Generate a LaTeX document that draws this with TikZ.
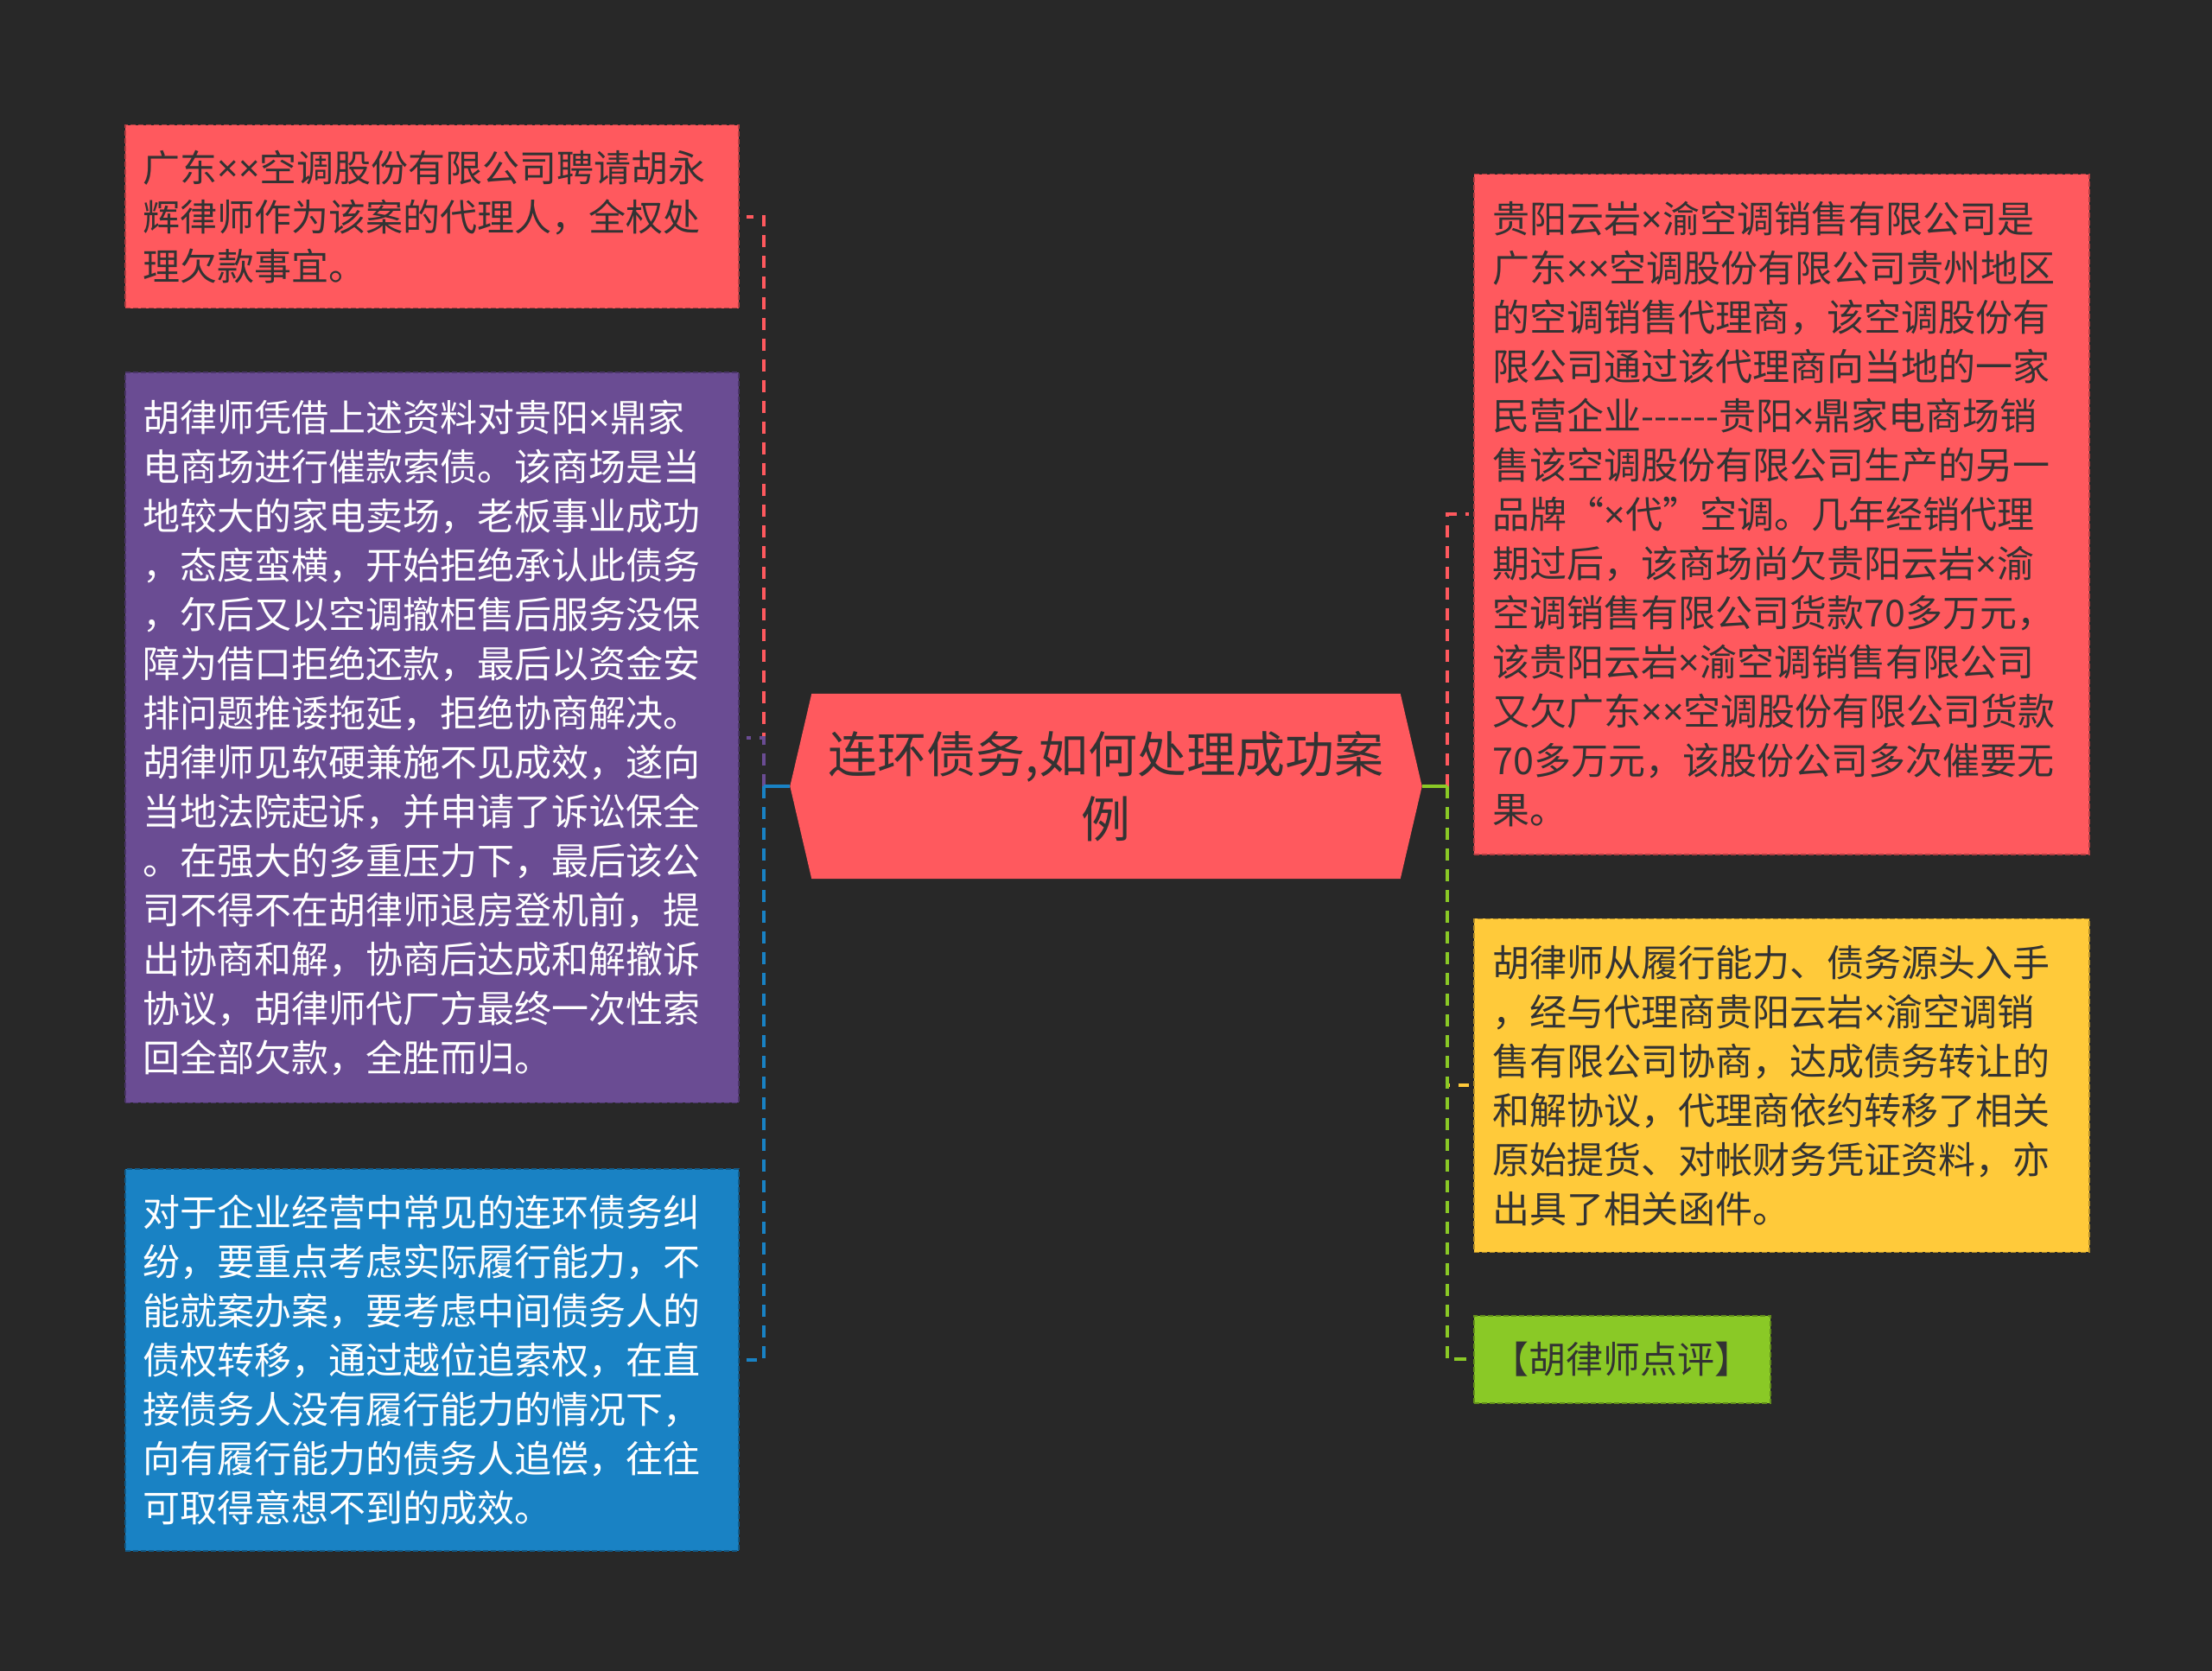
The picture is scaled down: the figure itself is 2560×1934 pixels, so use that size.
\documentclass[tikz,border=0pt]{standalone}
\usepackage{fontspec}
\setmainfont{Noto Sans CJK SC}
\newfontfamily\latn{Noto Sans}
\newcommand{\tms}{{\latn ×}}
\usetikzlibrary{positioning, backgrounds}
\definecolor{bgdark}{HTML}{282828}
\definecolor{nred}{HTML}{FF595E}
\definecolor{nyellow}{HTML}{FFCA3A}
\definecolor{ngreen}{HTML}{8AC926}
\definecolor{nblue}{HTML}{1982C4}
\definecolor{npurple}{HTML}{6A4C93}
\definecolor{ntext}{HTML}{333333}

\tikzset{
  leaf/.style={rectangle, fill=#1, draw=#1!70!black, dash pattern=on 6pt off 3pt, line width=1.5pt,
    inner xsep=21pt, inner ysep=0pt, text width=668pt, align=left, text=ntext,
    font=\fontsize{43pt}{57pt}\selectfont},
  link/.style={line width=4pt, draw=#1},
  linkdash/.style={dash pattern=on 14pt off 10pt},
}

\begin{document}
\begin{tikzpicture}[x=1pt, y=1pt]
  \useasboundingbox (0,0) rectangle (2560,-1934);

  % central topic
  \node[minimum width=681pt, minimum height=214pt, align=center, text=ntext,
        font=\fontsize{57pt}{75pt}\selectfont] (root) at (1280,-910) {连环债务,如何处理成功案\\例};
  \coordinate[left=25pt of root.west] (rootL);
  \coordinate[right=25pt of root.east] (rootR);
  \coordinate[left=30pt of rootL] (lt);
  \coordinate[right=29pt of rootR] (rt);

  % left branch
  \node[leaf=nred, minimum height=212pt, anchor=north west] (a1) at (144,-144) {广东\tms{}\tms{}空调股份有限公司聘请胡永\\
    辉律师作为该案的代理人，全权处\\
    理欠款事宜。};
  \node[leaf=npurple, text=white, minimum height=845pt, below=73pt of a1] (a2) {胡律师凭借上述资料对贵阳\tms{}鼎家\\
    电商场进行催款索债。该商场是当\\
    地较大的家电卖场，老板事业成功\\
    ，态度蛮横，开始拒绝承认此债务\\
    ，尔后又以空调撤柜售后服务没保\\
    障为借口拒绝还款，最后以资金安\\
    排问题推诿拖延，拒绝协商解决。\\
    胡律师见软硬兼施不见成效，遂向\\
    当地法院起诉，并申请了诉讼保全\\
    。在强大的多重压力下，最后该公\\
    司不得不在胡律师退房登机前，提\\
    出协商和解，协商后达成和解撤诉\\
    协议，胡律师代厂方最终一次性索\\
    回全部欠款，全胜而归。};
  \node[leaf=nblue, text=white, minimum height=442pt, below=75pt of a2] (a3) {对于企业经营中常见的连环债务纠\\
    纷，要重点考虑实际履行能力，不\\
    能就案办案，要考虑中间债务人的\\
    债权转移，通过越位追索权，在直\\
    接债务人没有履行能力的情况下，\\
    向有履行能力的债务人追偿，往往\\
    可取得意想不到的成效。};

  % right branch
  \node[leaf=nred, inner xsep=22pt, minimum height=787pt, anchor=north west] (b1) at (1705,-201) {贵阳云岩\tms{}渝空调销售有限公司是\\
    广东\tms{}\tms{}空调股份有限公司贵州地区\\
    的空调销售代理商，该空调股份有\\
    限公司通过该代理商向当地的一家\\
    民营企业-{}-{}-{}-{}-{}-贵阳\tms{}鼎家电商场销\\
    售该空调股份有限公司生产的另一\\
    品牌“\tms{}代”空调。几年经销代理\\
    期过后，该商场尚欠贵阳云岩\tms{}渝\\
    空调销售有限公司货款70多万元，\\
    该贵阳云岩\tms{}渝空调销售有限公司\\
    又欠广东\tms{}\tms{}空调股份有限公司货款\\
    70多万元，该股份公司多次催要无\\
    果。};
  \node[leaf=nyellow, inner xsep=22pt, minimum height=386pt, below=73pt of b1] (b2) {胡律师从履行能力、债务源头入手\\
    ，经与代理商贵阳云岩\tms{}渝空调销\\
    售有限公司协商，达成债务转让的\\
    和解协议，代理商依约转移了相关\\
    原始提货、对帐财务凭证资料，亦\\
    出具了相关函件。};
  \node[leaf=ngreen, text width=301pt, minimum height=101pt, below right=72pt and 0pt of b2.south west] (b3) {【胡律师点评】};

  \begin{scope}[on background layer]
    \fill[bgdark] (0,0) rectangle (2560,-1934);
    \fill[nred] (root.north west) -- (root.north east) -- (rootR) -- (root.south east)
      -- (root.south west) -- (rootL) -- cycle;
  \end{scope}

  % connectors
  \foreach \n/\c in {a1/nred, a2/npurple, a3/nblue} {
    \draw[link=\c] (rootL) -- (lt);
    \draw[link=\c, linkdash, shorten >=8pt] (lt) |- (\n.east);
  }
  \foreach \n/\c in {b1/nred, b2/nyellow, b3/ngreen} {
    \draw[link=\c] (rootR) -- (rt);
    \draw[link=\c, linkdash, shorten >=5pt] (rt) |- (\n.west);
  }
\end{tikzpicture}
\end{document}
